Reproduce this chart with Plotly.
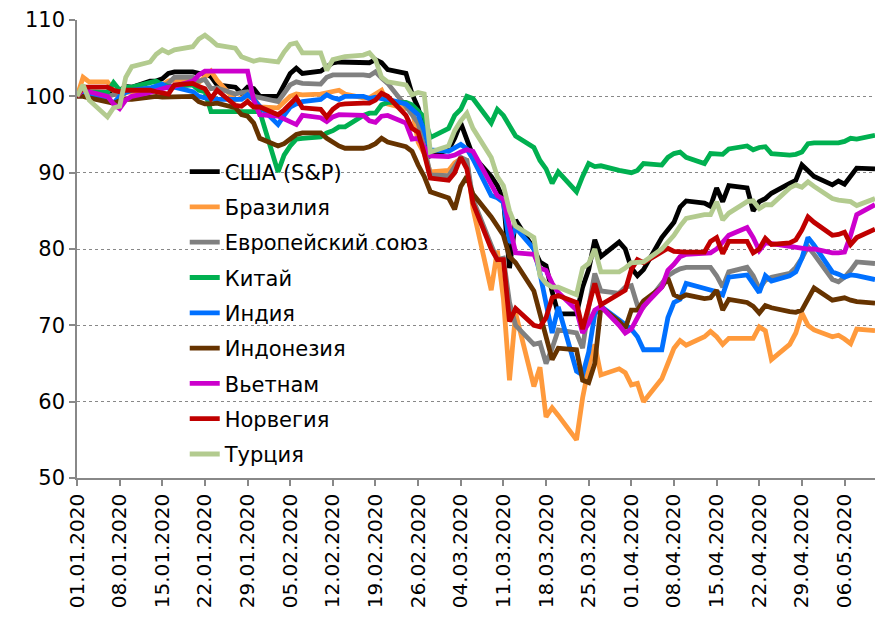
import pandas as pd
import plotly.graph_objects as go

dates = [d.strftime("%Y-%m-%d") for d in pd.bdate_range("2020-01-01", "2020-05-11")]

usa = [100, 100.8, 100.3, 100.5, 100.3, 100.8, 101.3, 101.2, 102, 102, 102.3, 103, 103.2, 103.2, 103, 103, 102.6, 101.5, 101.2, 100.4, 101.2, 101, 100,
       100, 101.5, 103, 103.7, 103, 103.3, 103.8, 104.4, 104.5, 104.5, 104.5, 104.4, 104.8, 104.4, 103.5, 103, 100.3, 98.5, 95.5, 92.2,
       93, 94.5, 96.5, 94.5, 92.2, 89.5, 88.3, 86.5, 77.5, 83.8, 80, 78.3, 77.8, 74.4, 71.5, 71.5, 75, 77.3, 81.2, 79, 80.9, 80,
       77.5, 76.5, 77.3, 81.5, 82.5, 83.5, 85.5, 86.3, 86, 85.6, 88, 86.2, 88.3, 88, 85, 86.2, 86.6, 87.3, 88.6, 89, 91, 90.3,
       89.5, 88.4, 88.9, 88.5, 89.6, 90.6, 90.5]
brazil = [100, 102.5, 101.9, 101.9, 100.8, 99.7, 100.5, 100.6, 100.8, 101, 101.5, 102, 102.2, 102.2, 101.8, 102.5, 103.3, 102.1, 99.5, 99.8, 99.9, 99.8, 98.6,
          98.5, 99.2, 100, 100.3, 100.2, 100.3, 100.5, 100.6, 100.8, 100.3, 99.8, 99.8, 100.3, 100.8, 99, 98.4, 98.5, 94, 92.5, 90.1,
          90.3, 91.3, 91.8, 91.6, 85.3, 74.6, 79.8, 73.5, 62.8, 71.6, 62, 64.5, 58, 59.2, 58.2, 55, 60.5, 64.5, 67.5, 63.5, 64.3, 63.8,
          62.2, 62.4, 60, 63, 65, 67, 68, 67.4, 68.5, 69.2, 68.5, 67.5, 68.3, 68.3, 68.3, 69.8, 69.3, 65.5, 67.5, 69, 71.6, 70,
          69.4, 68.5, 68.7, 68.2, 67.6, 69.5, 69.3]
eu = [100, 100.8, 100.3, 100, 100.2, 100.5, 101, 101, 101, 101.3, 101.3, 101.7, 102.5, 102.5, 102, 102.2, 101, 101.1, 100.3, 100.5, 100.6, 100, 99.8,
      99.3, 100.4, 101.5, 101.9, 101.7, 101.6, 102.5, 102.8, 102.8, 102.9, 102.8, 102.7, 103.2, 102.4, 101.7, 98.7, 97.5, 96.5, 93.5, 89.7,
      89.6, 90.8, 92, 91.6, 86.5, 80.5, 78.6, 78.8, 73, 70, 67.5, 67.7, 65, 67, 69.4, 69, 67, 72.4, 76.8, 74.5, 74.2, 75,
      75.2, 72.6, 72.4, 75.5, 76.5, 77, 77.4, 77.6, 77.6, 77.6, 76.5, 75, 77, 77.6, 76.5, 74.8, 75.9, 76.3, 76.8, 77.6, 78.8, 80.3,
      79.3, 76, 75.7, 76.3, 77.2, 78.3, 78.1]
china = [100, 101, 100.6, 100.5, 101.8, 100.8, 101.2, 101.2, 101.8, 102, 101.5, 101.3, 101.3, 101.5, 100.8, 100.6, 98, 98, 98, 98, 98, 98, 98,
         90.1, 92.3, 93.5, 94.4, 94.5, 94.7, 95.2, 95.5, 96, 96, 97.5, 97.8, 97.8, 98.9, 99.2, 99.2, 98.9, 98, 97.3, 94.6,
         95.8, 97.5, 98.3, 100, 99.7, 96.5, 98.3, 97.5, 96, 94.8, 93.3, 91.6, 90.5, 88.6, 90.1, 87.5, 89.5, 91.2, 90.8, 90.9, 90.3, 90.2,
         90, 90.3, 91.2, 91, 92, 92.5, 92.7, 92, 91.2, 92.5, 92.5, 92.4, 93.1, 93.5, 93, 93.3, 93.4, 92.5, 92.3, 92.4, 92.7, 93.8,
         93.9, 93.9, 93.9, 94.1, 94.5, 94.4, 94.9]
india = [100, 100.5, 100.2, 99.5, 99.1, 100, 100.5, 100.8, 101.1, 101.4, 101.6, 101.1, 101.2, 100.6, 100, 99.8, 99.7, 99.6, 99.6, 99.6, 100.2, 99.6, 98.7,
         96.3, 97.5, 98.6, 99, 99.3, 99.6, 100.2, 99.8, 99.6, 100, 100, 99.7, 99.9, 99.7, 99.6, 99, 98.3, 97.6, 95.5, 93,
         92.8, 93.3, 93.7, 93.1, 91.8, 87, 86.7, 86.1, 80.8, 82.8, 80, 76.8, 73, 69, 72.4, 64, 63.5, 66.5, 71.5, 72.5, 70.7, 70,
         69.5, 68.5, 66.8, 66.8, 71, 73, 73.4, 75.5, 74.8, 74.5, 74.4, 74, 76.3, 76.6, 75.5, 74.3, 76.5, 75.8, 76.5, 77, 78.8, 81.5,
         80.5, 77, 76.7, 76.3, 76.6, 76.5, 76]
indonesia = [100, 100, 99.8, 99.3, 99.1, 99.4, 99.6, 99.6, 99.8, 100, 99.9, 99.9, 100, 100, 99.3, 99, 99, 99.1, 98.5, 97.6, 97.4, 96.5, 94.5,
             93.5, 93.8, 94.5, 95, 95.2, 95.2, 94.5, 94, 93.5, 93.2, 93.2, 93.4, 93.8, 94.5, 94, 93.4, 92.8, 91, 89.5, 87.5,
             86.7, 85.2, 88.2, 89.5, 87.2, 84.2, 83, 81.8, 79, 78.2, 74.5, 71.5, 68.5, 65.5, 67, 66.8, 62.8, 62.5, 65, 72.4, 70.5, 69.6,
             72, 72, 73.2, 75, 76.2, 74, 73.6, 74, 73.5, 73.6, 74.6, 72, 73.4, 73, 72.5, 71.6, 72.6, 72.3, 71.8, 71.7, 72, 73.5,
             74.9, 73.3, 73.5, 73.6, 73.3, 73.1, 72.9]
vietnam = [100, 100.9, 100.6, 100, 99, 98.4, 99.5, 100, 100.5, 100.8, 101, 101.2, 101.3, 102, 102.8, 103.3, 103.3, 103.3, 103.3, 103.3, 103.3, 99.5, 97.6,
           97.4, 97, 96.6, 96.3, 97.5, 97.2, 96.7, 97.3, 97.6, 97.6, 97.5, 96.8, 96.6, 97.4, 97.5, 96.5, 94.4, 94.5, 93.2, 92.2,
           92.1, 92.3, 92.7, 93, 92.8, 88.5, 87, 86.5, 83, 79.5, 79.3, 77.5, 77.2, 75.5, 74.3, 72, 69, 70.3, 72, 72.5, 70, 69,
           69.5, 71, 72.5, 75, 77.2, 78, 79, 79.3, 79.4, 79.5, 80, 80.8, 81.8, 82.8, 81.5, 79.8, 80.8, 80.7, 80.3, 80.2, 80.1, 80,
           80, 79.5, 79.5, 79.6, 81.8, 84.5, 85.8]
norway = [100, 101.2, 101.2, 101.2, 100.8, 100.6, 100.8, 100.8, 100.8, 100.6, 100.5, 100.3, 101.5, 101.7, 101.3, 101, 99.7, 100.8, 98.8, 98.7, 99.3, 98.6, 98.6,
          97.6, 98.2, 99, 99.8, 98.5, 98.3, 97.3, 98.3, 98.9, 99, 99.1, 99.1, 99.5, 100.4, 100, 97.5, 95.8, 95.3, 92.5, 89.3,
          89, 90, 92, 90.5, 86, 80, 78.6, 78.6, 70.5, 72.2, 70, 69.8, 71, 73.6, 73.9, 73, 69.5, 72.7, 75.5, 72.7, 74.2, 74.6,
          77.3, 78.6, 78.2, 79.5, 80.1, 79.7, 79.6, 79.6, 79.6, 81, 81.5, 79.4, 81, 81, 79.5, 80, 81.4, 80.6, 80.8, 81.2, 82.5, 84.2,
          83.5, 81.8, 81.9, 82.2, 80.6, 81.5, 82.6]
turkey = [100, 101.5, 99.5, 97.3, 98.5, 98.7, 102.5, 103.9, 104.5, 105.5, 106.1, 105.7, 106.1, 106.5, 107.5, 108, 107.4, 106.7, 106.3, 105.2, 104.9, 104.6, 104.8,
          104.5, 105.8, 106.8, 107, 105.7, 105.7, 103.4, 104.8, 105, 105.2, 105.4, 105.7, 104.8, 102.5, 101.9, 101.5, 100.2, 100.5, 100.3, 92.7,
          93.5, 95.5, 96.8, 97.8, 95.8, 92, 89.5, 88.3, 85, 83, 81.5, 76.5, 75.5, 75, 75, 74, 77.5, 78.1, 80, 77, 77, 77.5,
          78.2, 78.2, 78.3, 80, 80.8, 81.8, 83, 84, 84.5, 84.5, 86.2, 83.8, 84.7, 86.2, 86.3, 85.3, 85.8, 85.8, 88, 88.4, 88.1, 88.8,
          88.2, 86.6, 86.4, 86.3, 86.2, 85.7, 86.6]

series_names = ["США (S&P)", "Бразилия", "Европейский союз", "Китай", "Индия",
                "Индонезия", "Вьетнам", "Норвегия", "Турция"]
series_values = [usa, brazil, eu, china, india, indonesia, vietnam, norway, turkey]
series_colors = ["#000000", "#FF9A3C", "#808080", "#00B050", "#0070FF",
                 "#663300", "#CC00CC", "#C00000", "#B3CB8F"]

FONT = "DejaVu Sans"

fig = go.Figure()
for i, (name, vals, col) in enumerate(zip(series_names, series_values, series_colors)):
    fig.add_trace(go.Scatter(x=dates, y=vals, mode="lines", name=name,
                             legendgroup=f"g{i}",
                             line=dict(color=col, width=4.8)))

fig.update_layout(
    width=875, height=619,
    margin=dict(l=77, r=0, t=20, b=141),
    paper_bgcolor="white", plot_bgcolor="white",
    font=dict(family=FONT, size=20, color="black"),
    showlegend=True,
    legend=dict(x=0.135, y=0.713, xanchor="left", yanchor="top",
                bgcolor="rgba(0,0,0,0)", font=dict(family=FONT, size=21, color="black"),
                tracegroupgap=5, itemwidth=30),
    xaxis=dict(type="date", range=["2020-01-01", "2020-05-11"],
               tick0="2020-01-01", dtick=7 * 86400000, tickformat="%d.%m.%Y",
               tickangle=-90, ticks="outside", ticklen=6, tickcolor="#888888", tickwidth=1.5,
               showline=True, linecolor="#888888", linewidth=1.5, showgrid=False,
               tickfont=dict(family=FONT, size=20, color="black")),
    yaxis=dict(range=[50, 110], dtick=10, ticks="outside", ticklen=6, tickcolor="#888888", tickwidth=1.5,
               showline=True, linecolor="#888888", linewidth=1.5,
               showgrid=True, gridcolor="#888888", griddash="dot", gridwidth=1.2, zeroline=False,
               tickfont=dict(family=FONT, size=21, color="black")),
)

fig.write_html("out.html", config={"displayModeBar": False},
               post_script="document.body.style.margin='0';document.body.style.overflow='hidden';")
